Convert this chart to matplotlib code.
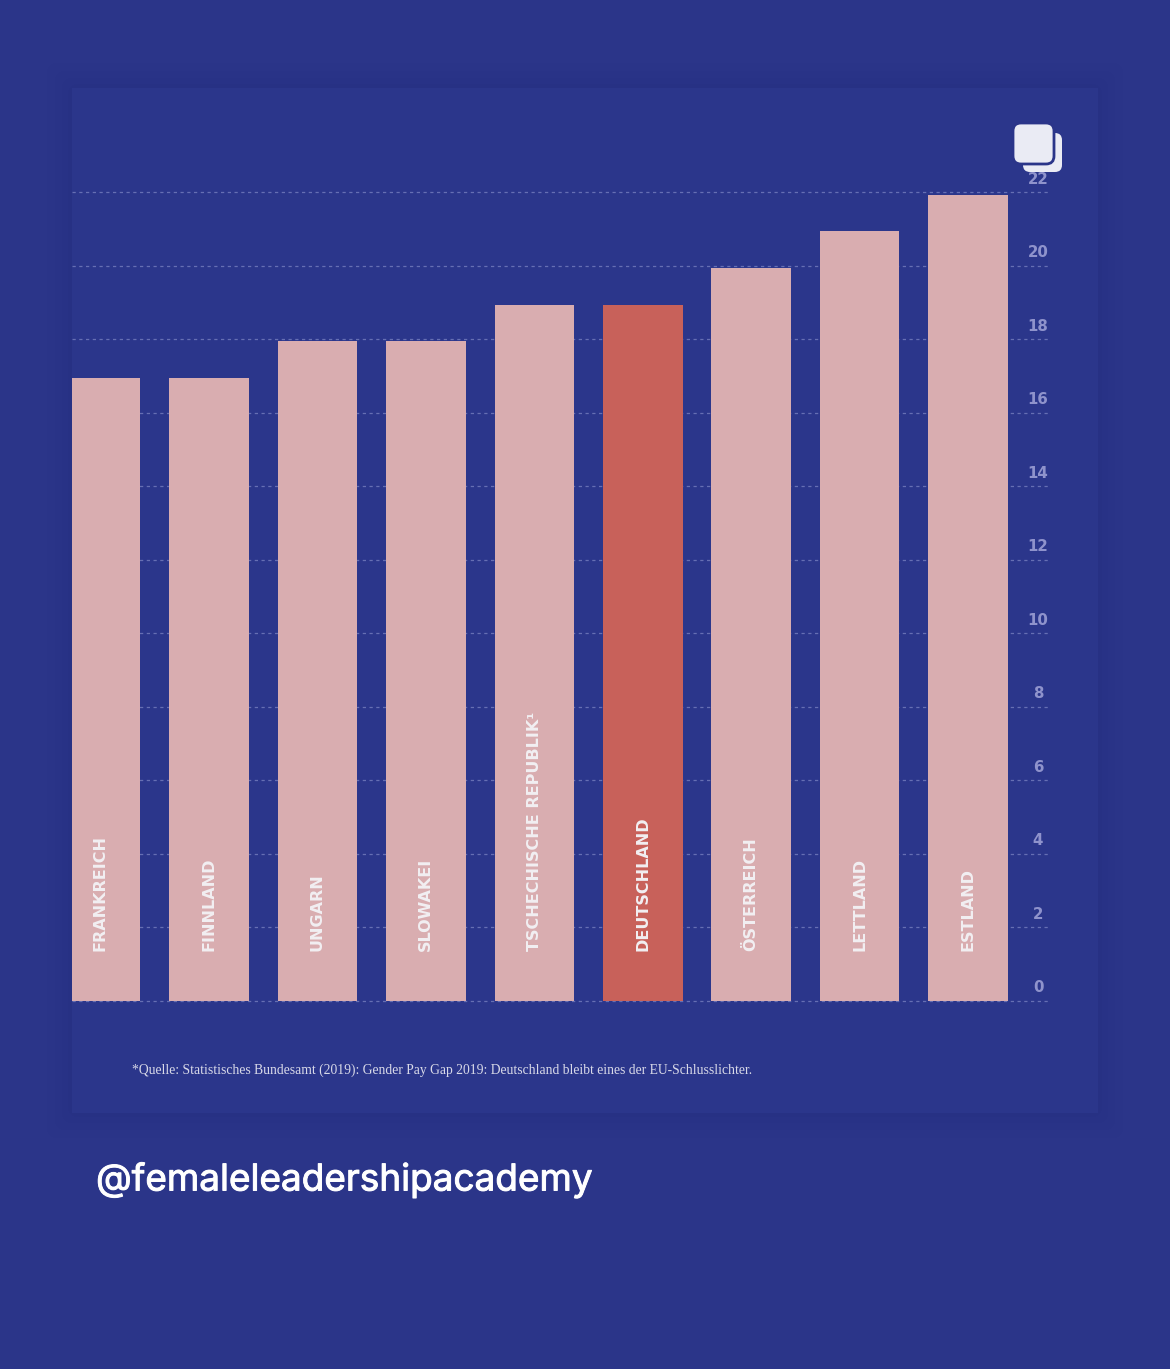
import matplotlib
matplotlib.use("Agg")
import matplotlib.pyplot as plt
import matplotlib.patheffects as pe
from matplotlib.patches import FancyBboxPatch
import numpy as np

countries = ["FRANKREICH", "FINNLAND", "UNGARN", "SLOWAKEI", "TSCHECHISCHE REPUBLIK¹",
             "DEUTSCHLAND", "ÖSTERREICH", "LETTLAND", "ESTLAND"]
gap_values = [16.93, 16.93, 17.94, 17.94, 18.94, 18.94, 19.94, 20.93, 21.93]
highlight = "DEUTSCHLAND"
y_ticks = list(range(0, 24, 2))
source = "*Quelle: Statistisches Bundesamt (2019): Gender Pay Gap 2019: Deutschland bleibt eines der EU-Schlusslichter."
handle = "@femaleleadershipacademy"

W, H = 1170, 1369
BG = "#2b3589"
PANEL = "#2b368b"
PINK = "#d9adb0"
RED = "#c8615a"
GRID = "#666fb3"
TICK = "#8f93cc"
WHITE = "#f2eff2"

fig = plt.figure(figsize=(W / 100, H / 100), dpi=100, facecolor=BG)


def px(x, y):
    return x / W, 1 - y / H


# soft shadow round the panel
for grow, alpha in zip([30, 22, 15, 9, 4], [0.02, 0.025, 0.03, 0.035, 0.04]):
    fig.add_artist(FancyBboxPatch(px(72 - grow + 12, 1113 + grow - 12), (1026 + 2 * grow - 24) / W, (1025 + 2 * grow - 24) / H,
                                  boxstyle="round,pad=0.006,rounding_size=0.01", mutation_aspect=W / H,
                                  transform=fig.transFigure, fc="#1d2768", ec="none", alpha=alpha, zorder=0))

ax = fig.add_axes([72 / W, 1 - 1113 / H, 1026 / W, 1025 / H], facecolor=PANEL, zorder=1)
x0, step = 100.5, 108.45
unit = (1001 - 192) / 22
ax.set_xlim((72 - x0) / step, (1098 - x0) / step)
ax.set_ylim((1001 - 1113) / unit, (1001 - 88) / unit)

pos = np.arange(len(countries))
for v in y_ticks:
    ax.plot([ax.get_xlim()[0], (1049 - x0) / step], [v, v], color=GRID, lw=0.9,
            dashes=(2.6, 2.8), zorder=1)
    ax.text((1038 - x0) / step, v + 13 / unit, str(v), color=TICK, fontsize=10.8, fontweight="bold",
            family="DejaVu Sans", ha="center", va="center", zorder=2)

colors = [RED if c == highlight else PINK for c in countries]
ax.bar(pos, gap_values, width=79.5 / step, color=colors, linewidth=0, zorder=3)

for i, c in enumerate(countries):
    ax.text(i, 50 / unit, c, rotation=90, color=WHITE, fontsize=11.5, fontweight="bold",
            family="DejaVu Sans", ha="center", va="bottom", zorder=4)

ax.set_xticks([])
ax.set_yticks([])
for s in ax.spines.values():
    s.set_visible(False)

fig.text(132 / W, 1 - 1070 / H, source, color="#d8d9e8", fontsize=9.85, family="Liberation Serif",
         ha="left", va="center", zorder=5)
fig.text(96 / W, 1 - 1180 / H, handle, color="white", fontsize=26.6, family="Inter",
         ha="left", va="center", zorder=5,
         path_effects=[pe.withStroke(linewidth=0.7, foreground="white")])

# layered-post icon, top right
overlay = fig.add_axes([0, 0, 1, 1], facecolor="none", zorder=6)
overlay.set_xlim(0, W)
overlay.set_ylim(H, 0)
overlay.axis("off")
overlay.add_patch(FancyBboxPatch((1027, 137), 31, 31, boxstyle="round,pad=4,rounding_size=7",
                                 fc="#eaebf4", ec="none"))
overlay.add_patch(FancyBboxPatch((1018, 128), 31, 31, boxstyle="round,pad=5,rounding_size=8",
                                 fc="#eaebf4", ec=BG, lw=2))

fig.savefig("out.png", dpi=100, facecolor=BG)
